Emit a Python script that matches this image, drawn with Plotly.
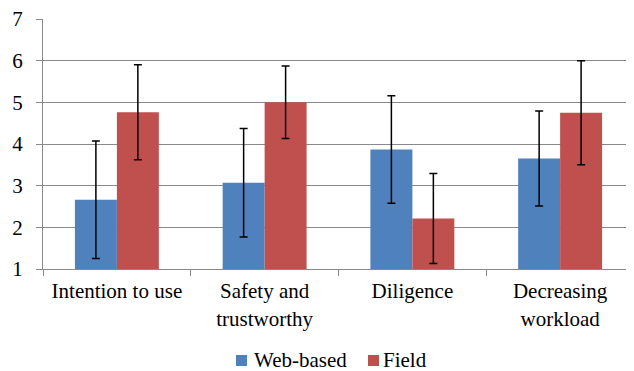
import plotly.graph_objects as go

categories = ["Intention to use", "Safety and<br>trustworthy", "Diligence", "Decreasing<br>workload"]
web_values = [2.66, 3.07, 3.87, 3.65]
web_errors = [1.41, 1.30, 1.29, 1.14]
field_values = [4.76, 5.00, 2.21, 4.75]
field_errors = [1.14, 0.87, 1.08, 1.25]
y_ticks = [1, 2, 3, 4, 5, 6, 7]
series_names = ["Web-based", "Field"]
series_colors = ["#4F81BD", "#C0504D"]

FONT = "Liberation Serif, Times New Roman, serif"
GRID = "#898989"

fig = go.Figure()
fig.add_trace(go.Bar(
    name=series_names[0], x=categories, y=web_values,
    marker=dict(color=series_colors[0], line=dict(width=0)),
    error_y=dict(type="data", array=web_errors, visible=True, color="black", thickness=1.5, width=4),
))
fig.add_trace(go.Bar(
    name=series_names[1], x=categories, y=field_values,
    marker=dict(color=series_colors[1], line=dict(width=0)),
    error_y=dict(type="data", array=field_errors, visible=True, color="black", thickness=1.5, width=4),
))

# The page has an 8px body margin, so the figure is drawn 8px in from the window corner.
OFF = 8
# Plot area in window pixels: 43..634 horizontally, 19..269 vertically
L, W, T, H = 43, 591, 19, 250
def px(x):
    return (x - L) / W
def py(y):
    return (T + H - y) / H

legend_items = [(236, 253), (368, 382)]
shapes = []
annotations = []
for (sx, tx), name, color in zip(legend_items, series_names, series_colors):
    shapes.append(dict(type="rect", xref="paper", yref="paper",
                       x0=px(sx), x1=px(sx + 11), y0=py(366), y1=py(355),
                       fillcolor=color, line=dict(width=0)))
    annotations.append(dict(text=name, xref="paper", yref="paper", x=px(tx - 1), y=py(360),
                            xanchor="left", yanchor="middle", showarrow=False,
                            font=dict(family=FONT, size=21, color="black")))

fig_w, fig_h = 634 - OFF, 371 - OFF
fig.update_layout(
    width=fig_w, height=fig_h,
    margin=dict(l=L - OFF, r=0, t=T - OFF, b=fig_h - (T - OFF) - H, autoexpand=False),
    paper_bgcolor="white", plot_bgcolor="white",
    barmode="group", bargap=0.432, bargroupgap=0,
    font=dict(family=FONT, size=21, color="black"),
    showlegend=False,
    shapes=shapes, annotations=annotations,
)
fig.update_yaxes(
    range=[1, 7], tickvals=y_ticks, ticktext=[str(v) for v in y_ticks],
    showgrid=True, gridcolor=GRID, gridwidth=1,
    showline=True, linecolor=GRID, linewidth=1,
    ticks="outside", ticklen=6, tickcolor=GRID, ticklabelstandoff=9,
    ticklabeloverflow="allow",
    zeroline=False, automargin=False, tickfont=dict(family=FONT, size=21, color="black"),
)
fig.update_xaxes(
    showgrid=False, showline=True, linecolor=GRID, linewidth=1,
    ticks="outside", ticklen=6, tickcolor=GRID, tickson="boundaries",
    ticklabelstandoff=3,
    automargin=False, tickfont=dict(family=FONT, size=21, color="black"),
)

fig.write_html("out.html")
